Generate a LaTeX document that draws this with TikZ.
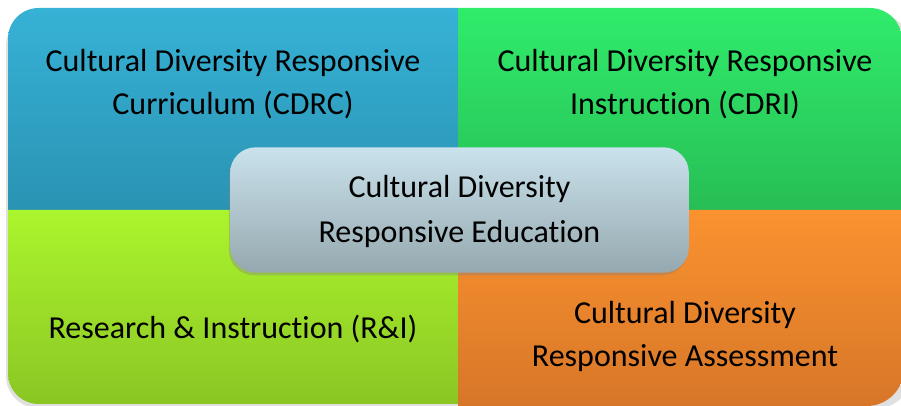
\documentclass[tikz,border=0pt]{standalone}
\usepackage{fontspec}
\setmainfont[Ligatures={NoCommon}]{Carlito}
\usetikzlibrary{shadows}
\definecolor{tlA}{HTML}{36B2D6}
\definecolor{tlB}{HTML}{2A93B3}
\definecolor{trA}{HTML}{30EC6B}
\definecolor{trB}{HTML}{27BE55}
\definecolor{blA}{HTML}{ABF52D}
\definecolor{blB}{HTML}{8BC624}
\definecolor{brA}{HTML}{FA922F}
\definecolor{brB}{HTML}{D77628}
\definecolor{cA}{HTML}{C9E2EC}
\definecolor{cB}{HTML}{96A8AF}
\tikzset{
  quad/.style={shading=axis, shading angle=0},
  qtext/.style={font=\fontsize{24}{32.5}\selectfont, align=center, text=black},
  centerbox/.style={rounded corners=19pt, top color=cA, bottom color=cB,
    drop shadow={shadow xshift=-1pt, shadow yshift=-2pt, opacity=0.35},
    minimum width=344pt, minimum height=94pt, font=\fontsize{24}{33.5}\selectfont, align=center}
}
\begin{document}
\begin{tikzpicture}[x=0.75pt,y=-0.75pt]
\useasboundingbox (0,0) rectangle (901,406);
\clip (0,0) rectangle (901,406);
% shadow under whole matrix
\fill[black,opacity=0.12] (6,14) [rounded corners=24pt] -- (6,408) -- (910,408) -- (910,14) -- cycle;
% quadrants
\path[quad, top color=tlA, bottom color=tlB]
  (458,210) -- (8,210) [rounded corners=23pt] -- (8,8) [sharp corners] -- (458,8) -- cycle;
\path[quad, top color=trA, bottom color=trB]
  (458,8) [rounded corners=24pt] -- (902,8) [sharp corners] -- (902,210) -- (458,210) -- cycle;
\path[quad, top color=blA, bottom color=blB]
  (8,210) -- (458,210) -- (458,404) [rounded corners=23pt] -- (8,404) [sharp corners] -- cycle;
\path[quad, top color=brA, bottom color=brB]
  (458,210) -- (904,210) [rounded corners=28pt] -- (904,406) [sharp corners] -- (458,406) -- cycle;
% labels
\node[qtext] (tl) at (233,84) {Cultural Diversity Responsive\\Curriculum (CDRC)};
\node[qtext] (tr) at (685,84) {Cultural Diversity Responsive\\Instruction (CDRI)};
\node[qtext] (bl) at (233,329) {Research \& Instruction (R\&I)};
\node[qtext] (br) at (685,336.5) {Cultural Diversity\\Responsive Assessment};
% center
\node[centerbox] (c) at (459.5,210) {};
\node[font=\fontsize{24}{33.5}\selectfont, align=center] (ct) at (459.5,211.5) {Cultural Diversity\\Responsive Education};
\end{tikzpicture}
\end{document}
